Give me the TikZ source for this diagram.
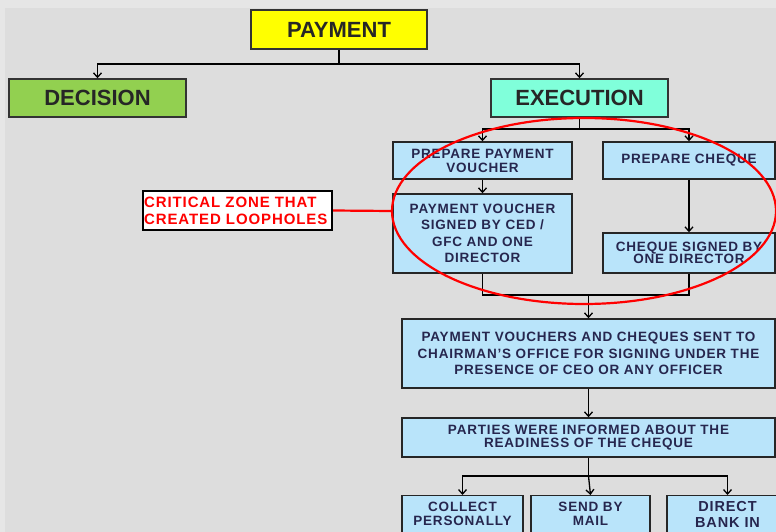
\documentclass[tikz,border=0pt]{standalone}
\usepackage{fontspec}
\setmainfont{Liberation Sans}
\newfontfamily\boxfont{Liberation Sans}[LetterSpace=6]
\usetikzlibrary{shapes.geometric,arrows.meta}
\definecolor{bg}{RGB}{221,221,221}
\definecolor{bgl}{RGB}{230,230,230}
\definecolor{lblue}{RGB}{185,228,250}
\definecolor{navy}{RGB}{38,38,78}
\definecolor{ygold}{RGB}{255,255,0}
\definecolor{lgreen}{RGB}{146,208,80}
\definecolor{aqua}{RGB}{128,255,218}
\begin{document}
\begin{tikzpicture}[x=1pt,y=-1pt,
  box/.style={draw=black!85, line width=1.4pt, fill=lblue, text=navy, align=center, inner sep=0pt,
    font=\boxfont\bfseries\fontsize{13.5}{14}\selectfont},
  bigbox/.style={draw=black!80, line width=1.4pt, align=center, inner sep=0pt, text=black!85,
    font=\bfseries\fontsize{22}{24}\selectfont, minimum width=177pt, minimum height=38pt},
  btxt/.style={text=navy, align=center, inner sep=0pt, font=\boxfont\bfseries\fontsize{13.5}{13.5}\selectfont},
  con/.style={line width=1.3pt, black},
  arr/.style={line width=1.3pt, black, -{Straight Barb[length=4.5pt,width=8pt]}}]
\clip (0,0) rectangle (776,532);
\fill[bg] (0,0) rectangle (776,532);
\fill[bgl] (0,0) rectangle (776,8);
\fill[bgl] (0,8) rectangle (5,532);

% top level
\node[bigbox, fill=ygold, minimum width=176pt, minimum height=39pt] (pay) at (339,29.5) {PAYMENT};
\node[bigbox, fill=lgreen] (dec) at (97.5,98) {DECISION};
\node[bigbox, fill=aqua] (exe) at (579.5,98) {EXECUTION};
\draw[con] (pay.south) -- (339,64) coordinate (j1);
\draw[arr] (j1) -| (dec.north);
\draw[arr] (j1) -| (exe.north);

% execution branch
\node[box, minimum width=179pt, minimum height=37pt] (ppv) at (482.5,160.5) {PREPARE PAYMENT\\VOUCHER};
\node[box, minimum width=172pt, minimum height=37pt] (pc) at (689,160.5) {PREPARE CHEQUE};
\draw[con] (exe.south) -- (579.5,129) coordinate (j2);
\draw[arr] (j2) -| (ppv.north);
\draw[arr] (j2) -| (pc.north);

\node[box, minimum width=179pt, minimum height=79pt, font=\boxfont\bfseries\fontsize{13.5}{16.5}\selectfont] (pvs) at (482.5,233.5) {PAYMENT VOUCHER\\SIGNED BY CED /\\GFC AND ONE\\DIRECTOR};
\node[box, minimum width=172pt, minimum height=40pt, font=\boxfont\bfseries\fontsize{13.5}{12.5}\selectfont] (csb) at (689,253) {CHEQUE SIGNED BY\\ONE DIRECTOR};
\draw[arr] (ppv.south) -- (pvs.north);
\draw[arr] (pc.south) -- (csb.north);

\node[box, minimum width=373pt, minimum height=69pt, font=\boxfont\bfseries\fontsize{13.5}{16.5}\selectfont] (pvc) at (588.5,353.5) {PAYMENT VOUCHERS AND CHEQUES SENT TO\\CHAIRMAN’S OFFICE FOR SIGNING UNDER THE\\PRESENCE OF CEO OR ANY OFFICER};
\coordinate (jl) at (pvs.south |- 0,295);
\coordinate (jr) at (csb.south |- 0,295);
\draw[con] (pvs.south) -- (jl) -- (jr) -- (csb.south);
\draw[arr] (pvc.north |- jl) -- (pvc.north);

\node[box, minimum width=373pt, minimum height=39pt, font=\boxfont\bfseries\fontsize{13.5}{12.5}\selectfont] (par) at (588.5,437.5) {PARTIES WERE INFORMED ABOUT THE\\READINESS OF THE CHEQUE};
\draw[arr] (pvc.south) -- (par.north);

% bottom boxes
\node[box, minimum width=121pt, minimum height=60pt, anchor=north] (col) at (462.5,495) {};
\node[box, minimum width=119pt, minimum height=60pt, anchor=north] (mail) at (590.5,495) {};
\node[box, minimum width=121pt, minimum height=60pt, anchor=north] (dir) at (727.5,495) {};
\node[btxt, anchor=north] (colt) at ([yshift=-7pt]col.north) {COLLECT\\PERSONALLY};
\node[btxt, anchor=north] (mailt) at ([yshift=-7pt]mail.north) {SEND BY\\MAIL};
\node[btxt, anchor=north, font=\boxfont\bfseries\fontsize{14.5}{16}\selectfont] (dirt) at ([yshift=-6pt]dir.north) {DIRECT\\BANK IN};
\draw[con] (par.south) -- (par.south |- 0,476) coordinate (j3);
\draw[arr] (j3) -| (col.north);
\draw[arr] (j3) -- (mail.north);
\draw[arr] (j3) -| (dir.north);

% critical zone
\node[ellipse, draw=red, line width=2.2pt, minimum width=384pt, minimum height=186pt, inner sep=0pt] (zone) at (584,211) {};
\node[draw=black, line width=2.2pt, fill=white, minimum width=189pt, minimum height=39pt, inner sep=0pt] (crit) at (237.5,210.5) {};
\node[anchor=west, inner sep=0pt, align=left, text=red, font=\boxfont\bfseries\fontsize{15}{17}\selectfont] (critt) at ([xshift=2pt]crit.west) {CRITICAL ZONE THAT\\CREATED LOOPHOLES};
\draw[red, line width=2.2pt] (crit.east) -- (zone.west);
\end{tikzpicture}
\end{document}
